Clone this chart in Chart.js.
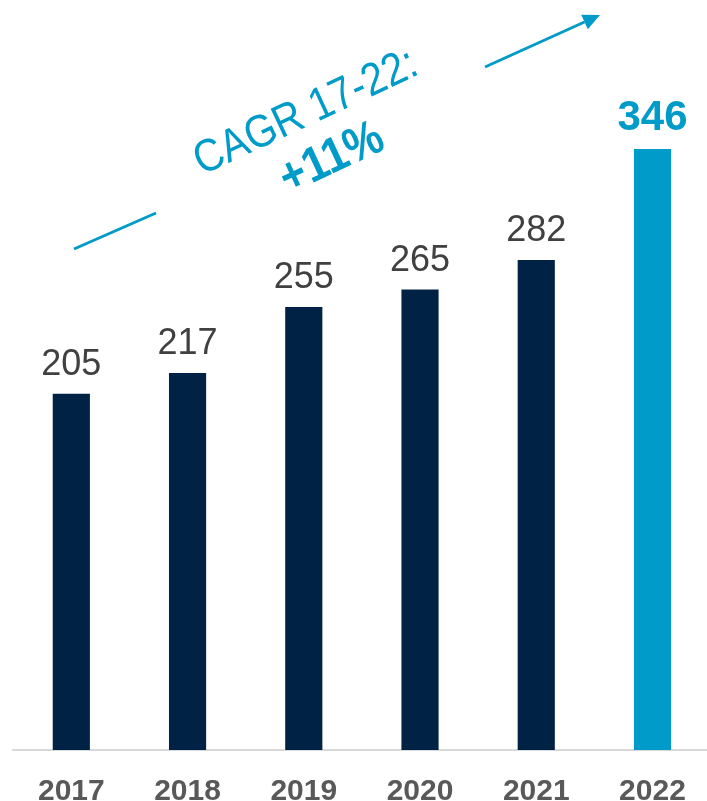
<!DOCTYPE html>
<html>
<head>
<meta charset="utf-8">
<script src="https://cdn.jsdelivr.net/npm/chart.js@4"></script>
<style>
  html, body { margin: 0; padding: 0; background: #ffffff; overflow: hidden; width: 707px; height: 801px; }
  canvas { display: block; }
</style>
</head>
<body>
<canvas id="c" width="720" height="801"></canvas>
<script>
// ---- data ----
const years = ["2017", "2018", "2019", "2020", "2021", "2022"];
const revenue = [205, 217, 255, 265, 282, 346];
const cagrTitle = "CAGR 17-22:";
const cagrValue = "+11%";

// ---- styles ----
const NAVY = "#002244";
const BLUE = "#009BC8";
const LABEL_GREY = "#404040";
const TICK_GREY = "#595959";
const lastIdx = revenue.length - 1;

const valueLabels = {
  id: "valueLabels",
  afterDatasetsDraw(chart) {
    const ctx = chart.ctx;
    const meta = chart.getDatasetMeta(0);
    ctx.save();
    ctx.textAlign = "center";
    ctx.textBaseline = "alphabetic";
    meta.data.forEach((bar, i) => {
      const hi = i === lastIdx;
      ctx.font = hi ? "bold 42px 'Liberation Sans', Arial, sans-serif" : "36px 'Liberation Sans', Arial, sans-serif";
      ctx.fillStyle = hi ? BLUE : LABEL_GREY;
      ctx.fillText(String(revenue[i]), bar.x, bar.y - 19);
    });
    ctx.restore();
  }
};

const cagrAnnotation = {
  id: "cagrAnnotation",
  afterDraw(chart) {
    const ctx = chart.ctx;
    ctx.save();
    ctx.strokeStyle = BLUE;
    ctx.fillStyle = BLUE;
    ctx.lineWidth = 3;
    ctx.lineCap = "butt";
    // lower segment
    ctx.beginPath();
    ctx.moveTo(74, 249);
    ctx.lineTo(156, 213);
    ctx.stroke();
    // upper segment with arrowhead
    const x1 = 485, y1 = 67, x2 = 600, y2 = 15;
    const ang = Math.atan2(y2 - y1, x2 - x1);
    const headLen = 17, headW = 8;
    const bx = x2 - headLen * Math.cos(ang), by = y2 - headLen * Math.sin(ang);
    ctx.beginPath();
    ctx.moveTo(x1, y1);
    ctx.lineTo(bx, by);
    ctx.stroke();
    ctx.beginPath();
    ctx.moveTo(x2, y2);
    ctx.lineTo(bx + headW * Math.sin(ang), by - headW * Math.cos(ang));
    ctx.lineTo(bx - headW * Math.sin(ang), by + headW * Math.cos(ang));
    ctx.closePath();
    ctx.fill();
    // rotated text
    const rot = -25 * Math.PI / 180;
    ctx.textAlign = "center";
    ctx.textBaseline = "middle";
    ctx.save();
    ctx.translate(306, 113);
    ctx.rotate(rot);
    ctx.scale(0.98, 1.12);
    ctx.font = "41px 'Liberation Sans', Arial, sans-serif";
    ctx.fillText(cagrTitle, 0, 0);
    ctx.restore();
    ctx.save();
    ctx.translate(332, 159);
    ctx.rotate(rot);
    ctx.scale(0.98, 1.12);
    ctx.font = "bold 44px 'Liberation Sans', Arial, sans-serif";
    ctx.fillText(cagrValue, 0, 0);
    ctx.restore();
    ctx.restore();
  }
};

new Chart(document.getElementById("c"), {
  type: "bar",
  data: {
    labels: years,
    datasets: [{
      data: revenue,
      backgroundColor: (c) => c.dataIndex === lastIdx ? BLUE : NAVY,
      borderWidth: 0,
      barThickness: 36.5
    }]
  },
  options: {
    responsive: false,
    animation: false,
    devicePixelRatio: 1,
    layout: { padding: { left: 13.2, right: 9.4, top: 0, bottom: 0 } },
    plugins: {
      legend: { display: false },
      tooltip: { enabled: false },
      title: { display: false }
    },
    scales: {
      x: {
        grid: { display: false, drawTicks: false },
        border: { display: true, color: "#d9d9d9", width: 2 },
        ticks: {
          color: TICK_GREY,
          font: { family: "'Liberation Sans', Arial, sans-serif", size: 30, weight: "bold" },
          padding: 24,
          maxRotation: 0
        },
        afterFit(scale) { scale.height = 51; }
      },
      y: {
        display: false,
        min: 0,
        max: 432
      }
    }
  },
  plugins: [valueLabels, cagrAnnotation]
});
</script>
</body>
</html>
